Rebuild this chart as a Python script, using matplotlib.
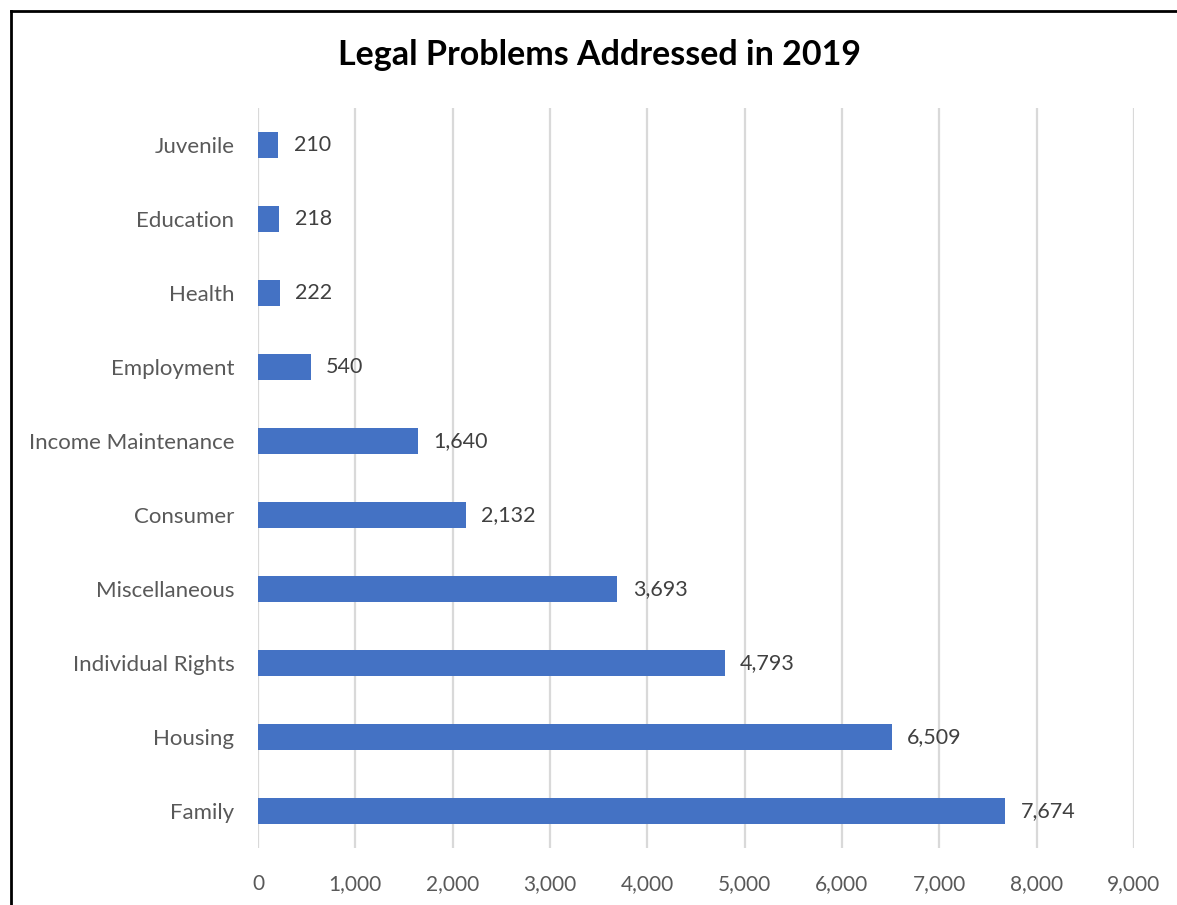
import matplotlib
matplotlib.use("Agg")
import matplotlib.pyplot as plt
from matplotlib.lines import Line2D

categories = ["Juvenile", "Education", "Health", "Employment", "Income Maintenance",
              "Consumer", "Miscellaneous", "Individual Rights", "Housing", "Family"]
values = [210, 218, 222, 540, 1640, 2132, 3693, 4793, 6509, 7674]
xticks = [0, 1000, 2000, 3000, 4000, 5000, 6000, 7000, 8000, 9000]

plt.rcParams['font.family'] = ['Lato', 'DejaVu Sans']

W, H = 1177, 905
fig = plt.figure(figsize=(W / 100, H / 100), dpi=100)
ax = fig.add_axes([258 / W, 1 - 848 / H, (1134 - 258) / W, (848 - 108) / H])

y = list(range(len(categories)))
ax.barh(y, values, height=0.35, color="#4472C4", zorder=3)
for yi, v in zip(y, values):
    ax.text(v + 160, yi, f"{v:,}", va="center", ha="left", fontsize=15.5, color="#404040")

ax.set_ylim(len(categories) - 0.5, -0.5)
ax.set_xlim(0, 9000)
ax.set_xticks(xticks)
ax.set_xticklabels([f"{t:,}" for t in xticks])
ax.set_yticks(y)
ax.set_yticklabels(categories)
ax.tick_params(axis="both", length=0, colors="#595959")
ax.tick_params(axis="x", pad=19, labelsize=15)
ax.tick_params(axis="y", pad=17, labelsize=16)
ax.grid(axis="x", color="#D9D9D9", linewidth=1.6, zorder=0)
for s in ax.spines.values():
    s.set_visible(False)

fig.text(600 / W, 1 - 55 / H, "Legal Problems Addressed in 2019", ha="center", va="center",
         fontsize=24.5, fontweight="bold", color="black")

fig.add_artist(Line2D([11 / W, 1], [1 - 11 / H, 1 - 11 / H], transform=fig.transFigure, color="black", linewidth=2))
fig.add_artist(Line2D([11 / W, 11 / W], [0, 1 - 11 / H], transform=fig.transFigure, color="black", linewidth=2))

fig.savefig("out.png", dpi=100)
